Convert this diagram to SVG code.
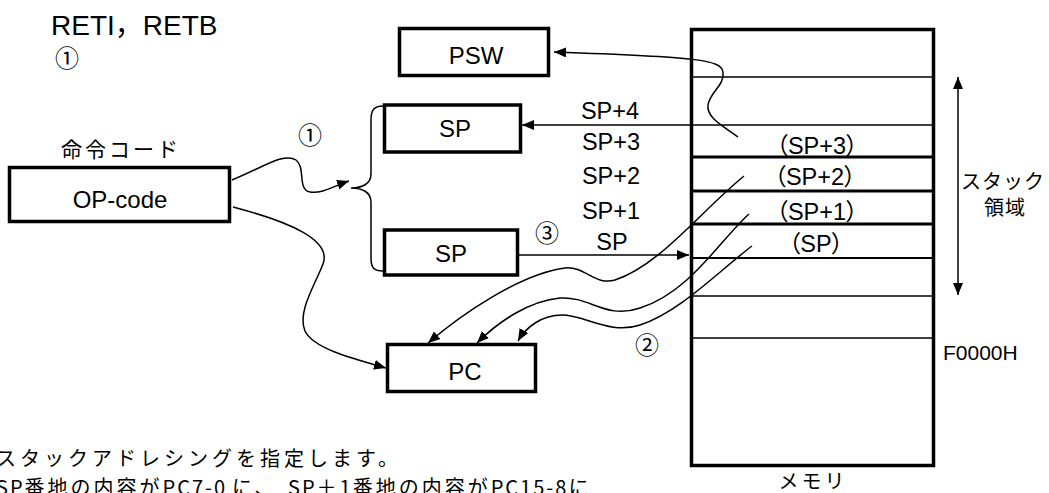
<svg xmlns="http://www.w3.org/2000/svg" width="1049" height="493" viewBox="0 0 1049 493">
<style>
.box{fill:#fff;stroke:#000;stroke-width:3.5}
.t{font-family:"Liberation Sans","Noto Sans CJK JP",sans-serif;fill:#000}
.lbl{font-size:24px;text-anchor:middle}
.sp{font-size:23.5px;text-anchor:middle}
.mem{font-size:23.5px;text-anchor:middle;font-feature-settings:"palt"}
.jp{font-family:"Noto Sans CJK JP","Liberation Sans",sans-serif;fill:#000}
.circ{font-family:"Noto Sans CJK JP",sans-serif;font-size:24px;text-anchor:middle;fill:#000}
.c{fill:none;stroke:#000;stroke-width:1.5}
.thin{stroke:#000;stroke-width:1.5}
.thick{stroke:#000;stroke-width:3}
.lat{letter-spacing:2px}
</style>
<defs>
<marker id="ah" markerUnits="userSpaceOnUse" markerWidth="14" markerHeight="12" refX="12" refY="5" orient="auto">
<path d="M0,0 L12,5 L0,10 z" fill="#000"/>
</marker>
<marker id="ahs" markerUnits="userSpaceOnUse" markerWidth="14" markerHeight="12" refX="0" refY="5" orient="auto">
<path d="M12,0 L0,5 L12,10 z" fill="#000"/>
</marker>
</defs>

<text class="t" x="51" y="35" font-size="28">RETI，RETB</text>
<text class="circ" x="67" y="67">①</text>

<g id="memory">
<rect x="691.5" y="29.5" width="242" height="436" fill="#fff" stroke="#000" stroke-width="3.5"/>
<line class="thin" x1="692" y1="77" x2="932" y2="77"/>
<line class="thin" x1="692" y1="125" x2="932" y2="125"/>
<line class="thick" x1="692" y1="157" x2="932" y2="157"/>
<line class="thick" x1="692" y1="191" x2="932" y2="191"/>
<line class="thick" x1="692" y1="224" x2="932" y2="224"/>
<line stroke="#000" stroke-width="2" x1="692" y1="258" x2="932" y2="258"/>
<line class="thin" x1="692" y1="296" x2="932" y2="296"/>
<line class="thin" x1="692" y1="338" x2="932" y2="338"/>
<text class="t mem" x="817" y="154">（SP+3）</text>
<text class="t mem" x="815" y="185">（SP+2）</text>
<text class="t mem" x="817" y="220">（SP+1）</text>
<text class="t mem" x="816" y="252">（SP）</text>
<text class="jp" x="813" y="489" font-size="20" text-anchor="middle" letter-spacing="3">メモリ</text>
<text class="t" x="943" y="360" font-size="21">F0000H</text>
<text class="jp" x="1003" y="189" font-size="20" text-anchor="middle" letter-spacing="1">スタック</text>
<text class="jp" x="1005" y="215" font-size="20" text-anchor="middle" letter-spacing="1">領域</text>
</g>

<g id="opcode">
<text class="jp" x="121" y="157" font-size="21" text-anchor="middle" letter-spacing="3">命令コード</text>
<rect class="box" x="9.5" y="167.5" width="220" height="54"/>
<text class="t lbl" x="120" y="208">OP-code</text>
</g>

<g id="psw">
<rect class="box" x="399.5" y="28.5" width="149" height="47"/>
<text class="t lbl" x="476" y="64">PSW</text>
</g>

<g id="sp1">
<rect class="box" x="384.5" y="105" width="136" height="47"/>
<text class="t lbl" x="455" y="137">SP</text>
</g>

<g id="sp2">
<rect class="box" x="384.5" y="230" width="133" height="45"/>
<text class="t lbl" x="451" y="262">SP</text>
</g>

<g id="pc">
<rect class="box" x="387.5" y="344.5" width="148" height="47"/>
<text class="t lbl" x="465" y="380">PC</text>
</g>

<g id="labels">
<text class="t sp" x="610" y="119">SP+4</text>
<text class="t sp" x="611" y="150">SP+3</text>
<text class="t sp" x="611" y="184">SP+2</text>
<text class="t sp" x="611" y="219">SP+1</text>
<text class="t sp" x="612" y="250">SP</text>
<text class="circ" x="310" y="144">①</text>
<text class="circ" x="547" y="242">③</text>
<text class="circ" x="647" y="354">②</text>
</g>

<g id="connectors">
<path class="c" d="M232,180 C262,168 284,152 296,160 C306,167 297,190 310,192 C322,194 334,186 349,181" marker-end="url(#ah)"/>
<path class="c" d="M383,106 C374,106 371,110 371,120 L371,174 C371,184 362,188 351,188 C362,188 371,192 371,202 L371,258 C371,268 374,271 383,271"/>
<path class="c" d="M233,207 C290,222 332,240 323,264 C315,285 297,312 305,331 C313,348 350,358 386,368" marker-end="url(#ah)"/>
<path class="c" d="M690,125 L522,125" marker-end="url(#ah)"/>
<path class="c" d="M738,137 C725,127 706,118 708,105 C710,92 725,85 723,72 C721,60 700,57 554,52" marker-end="url(#ah)"/>
<path class="c" d="M519,255 L689,255" marker-end="url(#ah)"/>
<path class="c" d="M744,176 C700,212 660,265 615,280 C595,286 585,266 565,268 C520,274 462,314 428,343" marker-end="url(#ah)"/>
<path class="c" d="M749,214 C720,240 690,292 640,308 C606,320 590,296 560,298 C530,301 500,320 477,343" marker-end="url(#ah)"/>
<path class="c" d="M752,246 C720,270 680,312 640,325 C610,335 585,315 562,315 C542,315 526,327 518,341" marker-end="url(#ah)"/>
<path class="c" d="M958,77 L958,295" marker-start="url(#ahs)" marker-end="url(#ah)"/>
</g>

<text class="jp" x="-4" y="466" font-size="20" letter-spacing="4">スタックアドレシングを指定します。</text>
<text class="jp" x="-4" y="495" font-size="20" letter-spacing="3"><tspan class="lat">SP</tspan>番地の内容が<tspan class="lat">PC7-0</tspan><tspan x="232">に、</tspan><tspan x="288" class="lat">SP</tspan>＋<tspan class="lat">1</tspan>番地の内容が<tspan class="lat">PC15-8</tspan>に</text>
</svg>
